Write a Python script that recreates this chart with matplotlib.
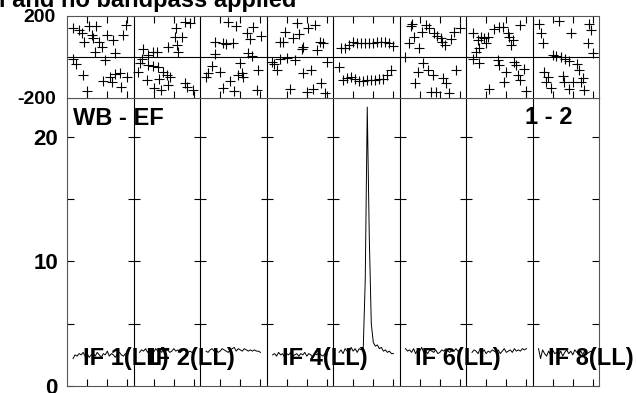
import numpy as np
import matplotlib
matplotlib.use("Agg")
import matplotlib.pyplot as plt

plt.rcParams["font.family"] = ["Liberation Sans", "DejaVu Sans"]
plt.rcParams["font.weight"] = "bold"
plt.rcParams["axes.unicode_minus"] = False

NCH = 33  # channel units per IF panel
IF_NAMES = ["IF 1(LL)", "IF 2(LL)", "IF 3(LL)", "IF 4(LL)",
            "IF 5(LL)", "IF 6(LL)", "IF 7(LL)", "IF 8(LL)"]
IF_SHOWN = [0, 1, 3, 5, 7]

# amplitude spectrum, channels 3..30 of each IF
AMP_CH = list(range(3, 31))
AMP = [
    [2.2, 2.5, 2.4, 2.6, 2.5, 2.7, 2.4, 2.6, 2.3, 2.5, 2.6, 2.4, 2.7, 2.5,
     2.3, 2.6, 2.5, 2.8, 2.4, 2.6, 2.5, 2.3, 2.6, 2.7, 2.5, 2.4, 2.6, 2.5],
    [2.7, 2.9, 2.8, 3.0, 2.7, 2.9, 2.8, 2.7, 3.0, 2.8, 2.9, 2.7, 3.0, 2.8,
     2.9, 2.7, 2.8, 3.0, 2.8, 2.9, 2.7, 2.8, 2.9, 2.8, 2.7, 2.8, 2.7, 2.7],
    [2.8, 2.7, 2.9, 3.0, 2.8, 2.9, 2.7, 2.8, 3.0, 2.9, 2.8, 2.7, 2.9, 3.0,
     3.1, 2.8, 3.0, 2.9, 2.8, 3.0, 2.9, 2.8, 2.9, 2.8, 2.9, 2.8, 2.8, 2.7],
    [2.5, 2.6, 2.4, 2.7, 2.5, 2.6, 2.3, 2.6, 2.5, 2.7, 2.4, 2.5, 2.6, 2.4,
     2.6, 2.5, 2.7, 2.4, 2.6, 2.5, 2.3, 2.6, 2.5, 2.7, 2.5, 2.4, 2.6, 2.5],
    [2.7, 2.9, 2.6, 3.0, 2.8, 2.7, 3.1, 2.8, 3.0, 2.7, 3.0, 2.9, 3.0, 8.5,
     22.4, 12.0, 5.0, 3.5, 3.2, 3.3, 3.0, 3.1, 2.8, 2.9, 2.7, 2.8, 2.6, 2.6],
    [3.0, 2.8, 2.9, 2.7, 3.0, 2.6, 2.9, 2.8, 3.1, 2.7, 2.8, 2.6, 2.9, 2.8,
     2.7, 2.9, 2.6, 2.7, 2.9, 2.8, 3.0, 2.8, 2.7, 2.9, 2.8, 3.0, 2.8, 2.9],
    [2.7, 2.9, 2.8, 2.6, 3.0, 2.7, 2.9, 2.6, 2.8, 2.7, 2.9, 2.8, 2.7, 2.9,
     2.6, 2.8, 3.0, 2.7, 2.8, 2.9, 2.7, 3.0, 2.8, 2.9, 2.8, 3.0, 2.9, 3.0],
    [3.0, 2.2, 2.9, 2.6, 2.4, 2.8, 2.5, 2.9, 2.6, 2.7, 2.5, 2.8, 2.4, 2.7,
     2.9, 2.6, 2.8, 2.5, 2.9, 2.7, 2.6, 2.8, 2.5, 2.9, 2.6, 2.7, 2.8, 2.6],
]

# phase (deg) vs channel for each IF
PH_CH = [
    [2.8, 6.1, 7.3, 8.4, 11.1, 14.4, 12.2, 13.1, 16.0, 20.0, 23.0, 29.1, 28.0, 13.9,
     17.2, 23.8, 3.1, 4.5, 18.9, 7.8, 26.3, 23.8, 21.3, 18.0, 22.2, 29.9, 26.6, 9.8],
    [25.6, 28.0, 21.1, 20.6, 23.9, 17.3, 21.4, 22.2, 4.9, 9.8, 11.5, 7.0, 4.1, 3.2,
     7.3, 9.8, 12.3, 14.8, 16.5, 18.1, 2.4, 6.9, 12.8, 17.3, 10.2, 13.5, 25.6, 26.7, 29.4],
    [14.1, 17.9, 26.5, 23.2, 30.1, 24.8, 7.4, 11.6, 12.9, 16.2, 7.4, 24.0, 25.6,
     5.8, 9.9, 4.1, 3.0, 19.9, 20.7, 19.0, 21.5, 28.9, 14.9, 11.6, 16.9, 28.1],
    [15.0, 20.8, 24.1, 9.2, 16.3, 13.0, 6.7, 8.0, 26.6, 28.2, 18.3, 17.5, 25.0,
     2.6, 3.7, 5.1, 6.7, 10.3, 14.1, 29.9, 18.3, 21.9, 11.7, 19.9, 23.2, 26.9, 29.0],
    [4, 6, 8, 10, 12, 14, 16, 18, 20, 22, 24, 26, 28, 30,
     3, 5, 7, 9, 11, 13, 15, 17, 19, 21, 23, 25, 27, 29],
    [5.7, 4.6, 7.4, 9.8, 11.2, 13.2, 14.8, 17.3, 18.4, 20.6, 21.1, 22.7, 25.6, 27.2,
     30.0, 6.3, 11.8, 9.0, 7.8, 14.0, 16.5, 21.4, 23.1, 28.0, 15.6, 18.1, 24.7, 2.9],
    [3.3, 5.8, 7.4, 9.1, 10.8, 9.9, 6.6, 5.0, 14.0, 16.5, 18.2, 20.7, 21.5, 23.2, 22.3,
     26.8, 3.3, 6.6, 15.7, 16.5, 24.0, 24.8, 28.9, 19.9, 25.6, 26.8, 19.0, 11.6, 29.8],
    [3.4, 13.0, 4.2, 5.0, 19.1, 28.2, 29.0, 27.4, 29.9, 10.3, 11.7, 14.1, 16.3, 18.0,
     5.9, 7.5, 6.7, 9.2, 15.0, 15.8, 19.9, 18.3, 21.9, 23.2, 24.9, 24.1, 25.7],
]
PH = [
    [140, 132, 115, 75, 151, 151, 107, 91, 75, 107, 83, 156, 107, 26,
     47, 18, -11, -34, -15, -88, -76, -83, -96, -117, -120, -96, -148, -164],
    [172, 168, 140, 99, 99, 50, 59, 26, 37, 26, 26, 10, -11, -31,
     -39, -44, -47, -72, -88, -96, -72, -112, -109, -137, -153, -161, -125, -145, -161],
    [172, 151, 148, 119, 102, 86, 75, 67, 63, 70, 15, 18, 5,
     -44, -72, -80, -96, -28, -80, -88, -96, -63, -115, -153, -164, -161],
    [168, 140, 156, 124, 112, 91, 75, 75, 75, 70, 47, 37, 34,
     -23, -34, -63, -11, -6, -15, -23, -76, -63, -156, -169, -156, -125, -174],
    [42, 45, 59, 75, 67, 67, 67, 67, 70, 75, 75, 75, 67, 55,
     -50, -110, -100, -98, -105, -115, -118, -110, -110, -112, -108, -106, -90, -65],
    [151, 67, 99, 42, 124, 156, 140, 115, 102, 91, 75, 59, 86, 124,
     140, 160, -31, -72, -128, -63, -88, -104, -125, -63, -169, -169, -174, -1],
    [115, 83, 96, 91, 99, 67, 42, 26, 135, 148, 145, 115, 99, 83, 59,
     156, -11, -31, -15, -39, -23, -39, -60, -72, -88, -112, -120, -158, -164],
    [161, 177, 115, 67, 115, 161, 132, 70, 18, 10, 5, -2, -11, -18,
     -72, -96, -120, -153, -93, -120, -120, -158, -34, -63, -104, -120, -161],
]

W, H = 636, 393
fig = plt.figure(figsize=(W / 100, H / 100), dpi=100)
x0, x1 = 67, 599
ax_a = fig.add_axes([x0 / W, (H - 386) / H, (x1 - x0) / W, (386 - 98) / H])
ax_p = fig.add_axes([x0 / W, (H - 98) / H, (x1 - x0) / W, (98 - 16) / H])

for i in range(8):
    ax_a.plot(np.array(AMP_CH) + i * NCH, AMP[i], color="black", lw=0.7)
    ax_p.plot(np.array(PH_CH[i]) + i * NCH, PH[i], "+", color="black", ms=7, mew=0.8)

for ax in (ax_a, ax_p):
    ax.set_xlim(0, 8 * NCH)
    for k in range(1, 8):
        ax.axvline(k * NCH, color="black", lw=0.8)
    for s in ax.spines.values():
        s.set_color("#555555")
        s.set_linewidth(0.8)
    xt = [k * NCH + c for k in range(8) for c in (10, 20, 30)]
    ax.set_xticks(xt)
    ax.set_xticklabels([])

ax_p.axhline(0, color="black", lw=0.8)
ax_p.set_ylim(-200, 200)
ax_p.set_yticks([-200, 200])
ax_p.set_yticklabels(["-200", "200"], fontsize=14, fontweight="bold")
ax_p.tick_params(axis="x", direction="in", length=5, top=True, bottom=True, width=0.8)
ax_p.tick_params(axis="y", length=0, pad=8)

ax_a.set_ylim(0, 23.13)
ax_a.set_yticks([0, 5, 10, 15, 20])
ax_a.set_yticklabels(["0", "", "10", "", "20"], fontsize=16, fontweight="bold")
ax_a.tick_params(axis="x", direction="in", length=5, width=0.8)
ax_a.tick_params(axis="y", direction="in", length=5, right=True, width=0.8, pad=6.5)
for k in range(1, 8):
    ax_a.plot([k * NCH] * 4, [5, 10, 15, 20], ls="none", marker="_",
              ms=9, mew=0.8, color="black")

ax_a.text(73 / W, 1 - 125 / H, "WB - EF", transform=fig.transFigure,
          fontsize=17, fontweight="bold", va="baseline")
ax_a.text(525 / W, 1 - 124 / H, "1 - 2", transform=fig.transFigure,
          fontsize=17, fontweight="bold", va="baseline")
for i in IF_SHOWN:
    ax_a.text(i * NCH + 7.7, 1.69, IF_NAMES[i], fontsize=17,
              fontweight="bold", va="baseline", ha="left", clip_on=False)

fig.text(-1 / W, 1 - 6.7 / H, "l and no bandpass applied", fontsize=17,
         fontweight="bold", va="baseline", ha="left")

fig.savefig("out.png", dpi=100)
